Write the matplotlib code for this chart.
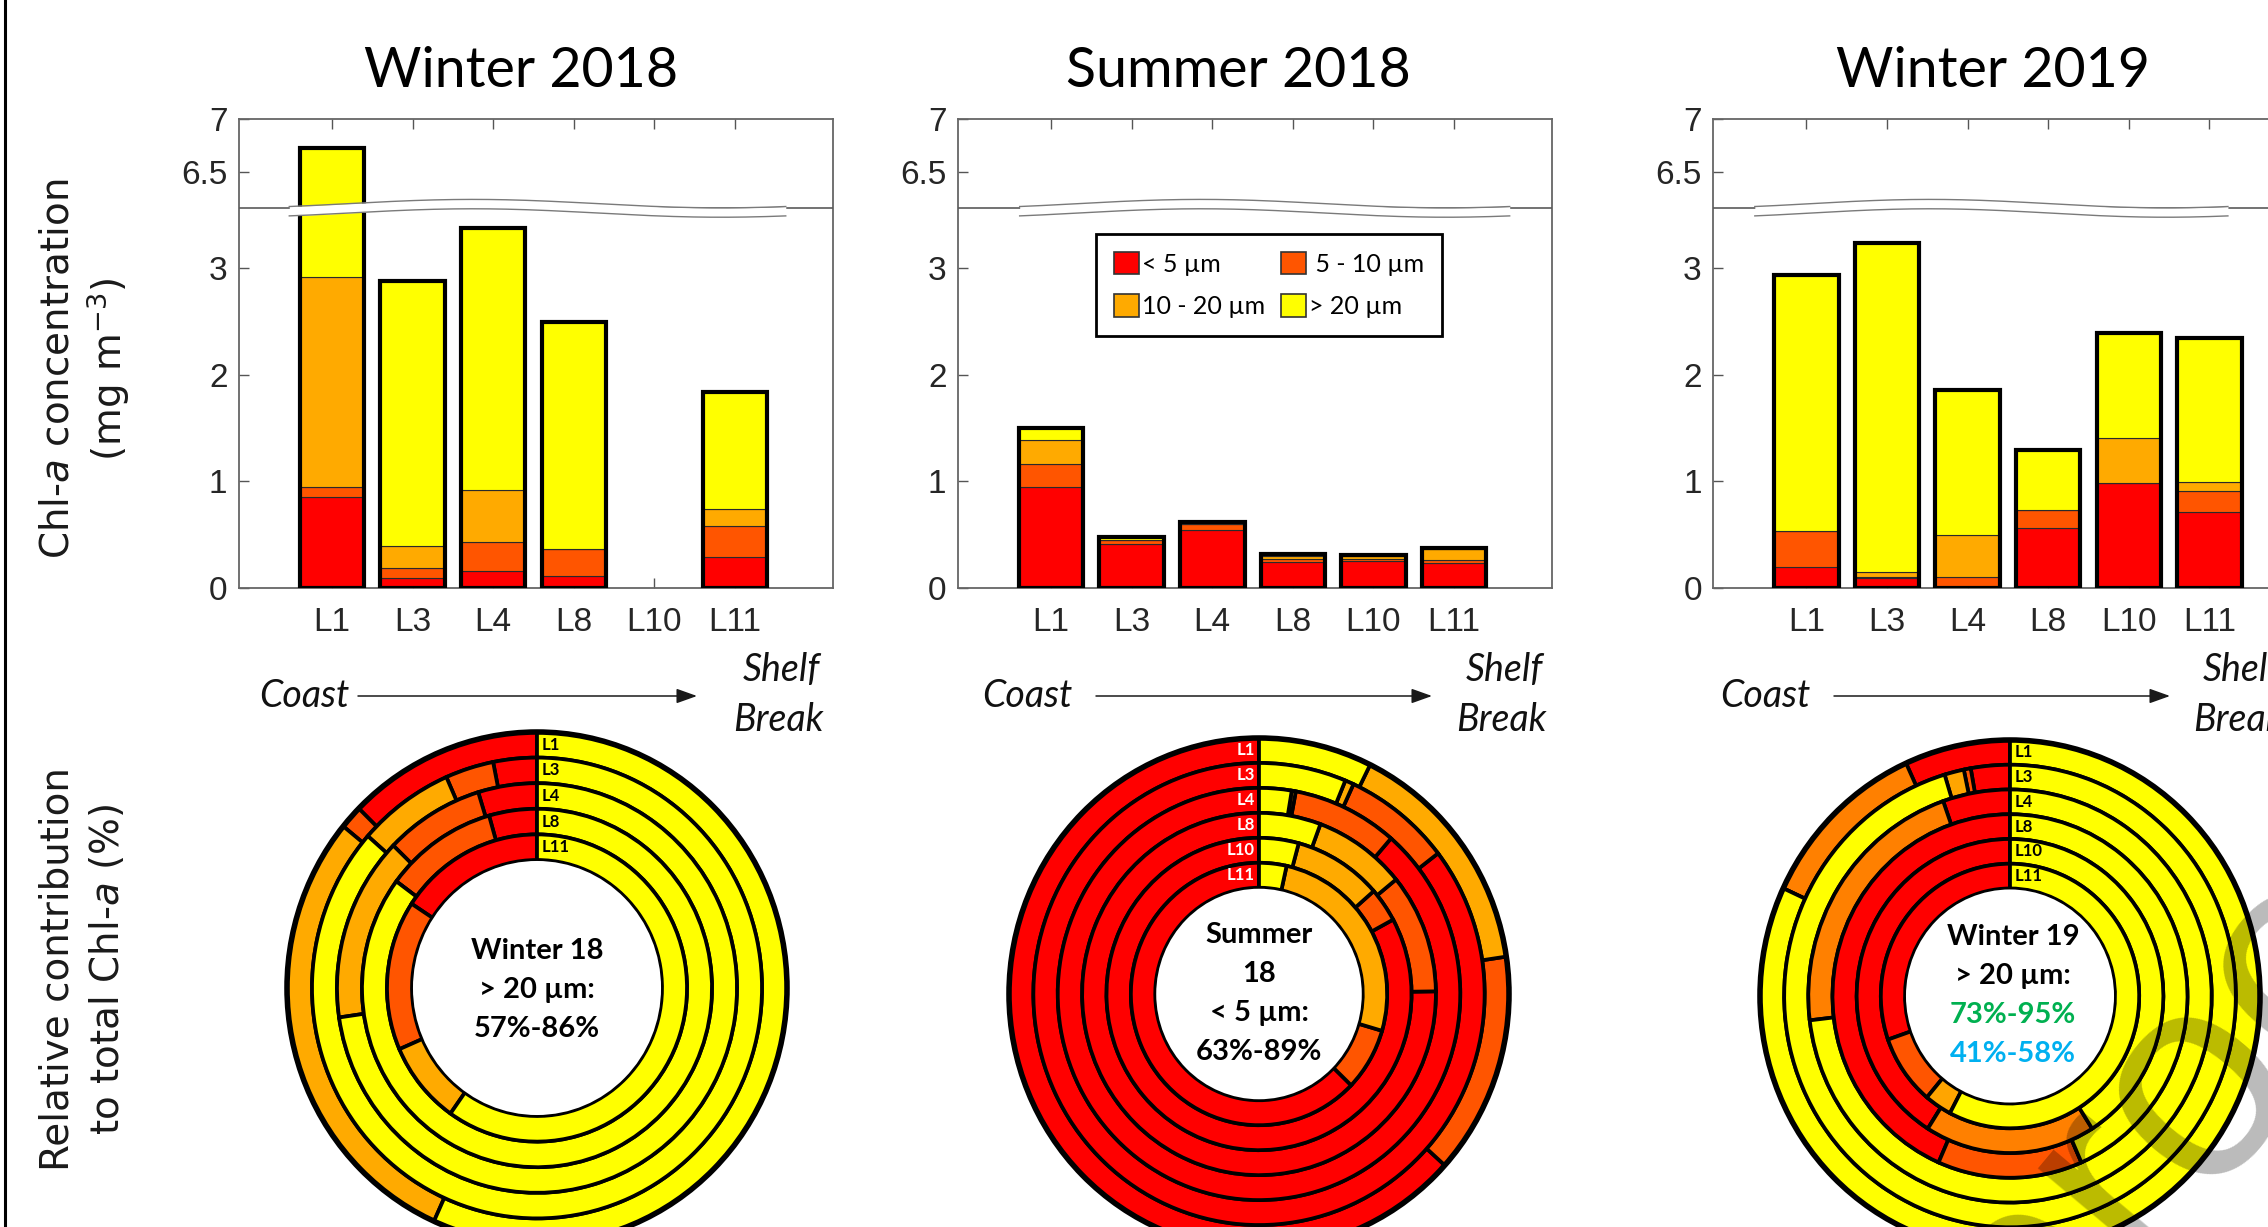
import numpy as np
import matplotlib
matplotlib.use("Agg")
import matplotlib.pyplot as plt
from matplotlib.patches import Patch, Ellipse, FancyArrowPatch
from matplotlib.lines import Line2D

# ------------------------------------------------------------------
# data: size-fractionated Chl-a (mg m-3) per station, nan = not sampled
# ------------------------------------------------------------------
stations = ['L1', 'L3', 'L4', 'L8', 'L10', 'L11']
size_labels = ['< 5 µm', ' 5 - 10 µm', '10 - 20 µm', '> 20 µm']
size_colors = ['#FF0000', '#FF5500', '#FFAA00', '#FFFF00']
seasons = ['Winter 2018', 'Summer 2018', 'Winter 2019']

w18_lt5 = [0.85, 0.09, 0.16, 0.11, np.nan, 0.29]
w18_5_10 = [0.10, 0.10, 0.27, 0.26, np.nan, 0.29]
w18_10_20 = [1.96, 0.20, 0.49, 0.00, np.nan, 0.16]
w18_gt20 = [3.82, 2.49, 2.45, 2.12, np.nan, 1.10]

s18_lt5 = [0.95, 0.41, 0.545, 0.24, 0.257, 0.236]
s18_5_10 = [0.21, 0.037, 0.052, 0.034, 0.011, 0.029]
s18_10_20 = [0.23, 0.003, 0.002, 0.027, 0.029, 0.098]
s18_gt20 = [0.11, 0.030, 0.016, 0.018, 0.013, 0.013]

w19_lt5 = [0.20, 0.090, 0.00, 0.56, 0.98, 0.71]
w19_5_10 = [0.33, 0.016, 0.10, 0.17, 0.00, 0.20]
w19_10_20 = [0.00, 0.045, 0.40, 0.00, 0.43, 0.08]
w19_gt20 = [2.40, 3.079, 1.36, 0.56, 0.98, 1.35]

# ring colours used in the Winter 2019 doughnut (per station, per size class)
w19_ring_colors = [
    ['#FF0000', '#FF8000', '#FF8000', '#FFFF00'],
    ['#FF0000', '#FF5500', '#FFA500', '#FFFF00'],
    ['#FF0000', '#FF0000', '#FF8000', '#FFFF00'],
    ['#FF0000', '#FF5500', '#FFA500', '#FFFF00'],
    ['#FF0000', '#FF5500', '#FF8000', '#FFFF00'],
    ['#FF0000', '#FF5500', '#FFA500', '#FFFF00'],
]

season_data = [
    [w18_lt5, w18_5_10, w18_10_20, w18_gt20],
    [s18_lt5, s18_5_10, s18_10_20, s18_gt20],
    [w19_lt5, w19_5_10, w19_10_20, w19_gt20],
]

# ------------------------------------------------------------------
# layout helpers (pixel positions on a 2268 x 1227 canvas)
# ------------------------------------------------------------------
W, H = 2268, 1227
fig = plt.figure(figsize=(W / 100, H / 100), dpi=100)
fig.patch.set_facecolor('white')


def px_axes(x0, y0, w, h):
    return fig.add_axes([x0 / W, 1 - (y0 + h) / H, w / W, h / H])


def ftext(x, y, s, **kw):
    return fig.text(x / W, 1 - y / H, s, **kw)


# broken y axis: 0..BRK_LO shown as is, values above BRK_HI shifted down by GAP
BRK_LO = 3.558
GAP = 2.605
BRK_HI = BRK_LO + GAP


def fwd(v):
    v = np.asarray(v, float)
    return np.where(v > BRK_HI, v - GAP, np.minimum(v, BRK_LO))


def inv(p):
    p = np.asarray(p, float)
    return np.where(p > BRK_LO, p + GAP, p)


bar_left = [238.5, 957.6, 1712.9]
bar_top, bar_w, bar_h = 119, 594, 469
title_x = [521, 1238, 1993]
ribbon_x = [(0.47, 6.63), (0.61, 6.69), (0.36, 6.23)]
coast_x = [304, 1027, 1765]
arrow_x = [(358, 697), (1096, 1432), (1834, 2170)]
shelf_x = [781, 1504, 2241]

tick_font = 'Liberation Sans'
tick_col = '#262626'
xs = np.arange(1, len(stations) + 1)

for k, (season, data) in enumerate(zip(seasons, season_data)):
    ax = px_axes(bar_left[k], bar_top, bar_w, bar_h)
    ax.set_yscale('function', functions=(fwd, inv))
    ax.set_ylim(0, 7)
    ax.set_xlim(-0.16, 7.21)

    vals = np.array(data, float)          # 4 x 6
    ok = ~np.isnan(vals[0])
    bottom = np.zeros(len(stations))
    for c in range(4):
        ax.bar(xs[ok], vals[c][ok], 0.8, bottom=bottom[ok],
               color=size_colors[c], edgecolor='#2a2a2a', linewidth=0.8, zorder=2)
        bottom = bottom + np.nan_to_num(vals[c])
    ax.bar(xs[ok], bottom[ok], 0.8, fill=False, edgecolor='black',
           linewidth=3.0, zorder=3)

    # axis break: straight line plus wavy white ribbon
    ax.axhline(BRK_LO, color='#5a5a5a', lw=1.2, zorder=4)
    xa, xb = ribbon_x[k]
    xr = np.linspace(xa, xb, 200)
    t = (xr - xa) / (xb - xa)
    yb = BRK_LO / fwd(7.0)
    wave = 0.009 * np.sin(2 * np.pi * (t - 0.12))
    lo, hi = yb + wave - 0.010, yb + wave + 0.010
    trans = ax.get_xaxis_transform()
    ax.fill_between(xr, lo, hi, color='white', transform=trans, zorder=5, lw=0)
    ax.plot(xr, lo, color='#7a7a7a', lw=1.0, transform=trans, zorder=6)
    ax.plot(xr, hi, color='#7a7a7a', lw=1.0, transform=trans, zorder=6)

    ax.set_yticks([0, 1, 2, 3, 6.5, 7])
    ax.set_yticklabels(['0', '1', '2', '3', '6.5', '7'])
    ax.set_xticks(xs)
    ax.set_xticklabels(stations)
    ax.minorticks_off()
    ax.tick_params(axis='x', direction='in', top=True, length=7, width=1.0,
                   color='#555555', pad=14)
    ax.tick_params(axis='y', direction='in', length=7, width=1.0,
                   color='#555555', pad=8)
    for lab in ax.get_xticklabels() + ax.get_yticklabels():
        lab.set_fontfamily(tick_font)
        lab.set_fontsize(24)
        lab.set_color(tick_col)
    for sp in ax.spines.values():
        sp.set_color('#666666')
        sp.set_linewidth(1.3)

    ftext(title_x[k], 87, season, ha='center', va='baseline',
          fontsize=40, family='Lato', color='black')

    # coast -> shelf break arrow
    it_kw = dict(ha='center', va='center', fontsize=27, family='Lato',
                 style='italic', color='#111111')
    ftext(coast_x[k], 696, 'Coast', **it_kw)
    ftext(shelf_x[k], 670, 'Shelf', **it_kw)
    ftext(shelf_x[k] - 3, 720, 'Break', **it_kw)
    x0, x1 = arrow_x[k]
    fig.add_artist(FancyArrowPatch((x0 / W, 1 - 696 / H), (x1 / W, 1 - 696 / H),
                                   transform=fig.transFigure,
                                   arrowstyle='-|>,head_length=0.7,head_width=0.25',
                                   mutation_scale=18, lw=1.1, color='#1a1a1a',
                                   shrinkA=0, shrinkB=0))

    if k == 1:
        handles = [Patch(facecolor=c, edgecolor='#333333', lw=1.2) for c in size_colors]
        order = [0, 2, 1, 3]
        leg = ax.legend([handles[i] for i in order], [size_labels[i] for i in order],
                        ncol=2, loc='upper left', bbox_to_anchor=(0.2337, 0.754),
                        borderaxespad=0, fancybox=False, framealpha=1,
                        edgecolor='black', prop={'family': 'Lato', 'size': 18},
                        handlelength=1.0, handleheight=1.0, handletextpad=0.12,
                        columnspacing=0.65, labelspacing=0.75, borderpad=0.7)
        leg.get_frame().set_linewidth(2.0)

# ------------------------------------------------------------------
# doughnuts: relative contribution of each size class, one ring per station
# ------------------------------------------------------------------
donut_c = [(537, 988), (1259, 994), (2010, 996)]
rh, rv = 250, 256
inner = [0.50, 0.415, 0.42]
pad = 1.06


def pct(x):
    return f"{100 * x:.0f}%"


fr_w18 = np.array(w18_gt20) / np.sum(season_data[0], axis=0)
fr_w18 = fr_w18[~np.isnan(fr_w18)]
fr_s18 = np.array(s18_lt5) / np.sum(season_data[1], axis=0)
fr_w19 = np.array(w19_gt20) / np.sum(season_data[2], axis=0)

center_lines = [
    [('Winter 18', 'black'), ('> 20 µm:', 'black'),
     (pct(fr_w18.min()) + '-' + pct(fr_w18.max()), 'black')],
    [('Summer', 'black'), ('18', 'black'), ('< 5 µm:', 'black'),
     (pct(fr_s18.min()) + '-' + pct(fr_s18.max()), 'black')],
    [('Winter 19', 'black'), ('> 20 µm:', 'black'),
     (pct(fr_w19[:3].min()) + '-' + pct(fr_w19[:3].max()), '#00B050'),
     (pct(fr_w19[3:].min()) + '-' + pct(fr_w19[3:].max()), '#00B0F0')],
]
center_y = [[951, 990, 1029], [935, 974, 1013, 1052], [937, 976, 1015, 1054]]
center_x = [537, 1259, 2013]

for k, data in enumerate(season_data):
    cx, cy = donut_c[k]
    ax = px_axes(cx - rh * pad, cy - rv * pad, 2 * rh * pad, 2 * rv * pad)
    vals = np.array(data, float)
    ok = np.where(~np.isnan(vals[0]))[0]
    n = len(ok)
    rw = (1 - inner[k]) / n
    for i, j in enumerate(ok):
        cols = w19_ring_colors[j] if k == 2 else size_colors
        ax.pie(vals[:, j], radius=1 - i * rw, colors=cols, startangle=90,
               counterclock=True,
               wedgeprops=dict(width=rw, edgecolor='black', linewidth=2.7))
        ym = 1 - (i + 0.5) * rw
        if k == 1:
            ax.text(-0.018, ym, stations[j], ha='right', va='center',
                    fontsize=12, family='Lato', weight='bold', color='white', zorder=10)
        else:
            ax.text(0.02, ym, stations[j], ha='left', va='center',
                    fontsize=12, family='Lato', weight='bold', color='black', zorder=10)
    ax.add_patch(Ellipse((0, 0), 2, 2, fill=False, edgecolor='black', lw=4.0, zorder=8))
    ax.add_patch(Ellipse((0, 0), 2 * inner[k], 2 * inner[k], facecolor='white',
                         edgecolor='none', zorder=8))
    ax.add_patch(Ellipse((0, 0), 2 * inner[k], 2 * inner[k], fill=False,
                         edgecolor='black', lw=1.4, zorder=9))
    ax.set_xlim(-pad, pad)
    ax.set_ylim(-pad, pad)
    ax.set_aspect('auto')
    ax.axis('off')

    for (s, col), y in zip(center_lines[k], center_y[k]):
        ftext(center_x[k], y, s, ha='center', va='center', fontsize=21,
              family='Lato', weight='bold', color=col, zorder=20)

# ------------------------------------------------------------------
# axis titles on the left
# ------------------------------------------------------------------
lab_kw = dict(rotation=90, ha='center', va='center', fontsize=28,
              family='DejaVu Sans', color='#1a1a1a')
ftext(58, 369, 'Chl-$\\mathit{a}$ concentration', **lab_kw)
ftext(108, 369, '(mg m$^{-3}$)', **lab_kw)
ftext(58, 969, 'Relative contribution', **lab_kw)
ftext(108, 969, 'to total Chl-$\\mathit{a}$ (%)', **lab_kw)

# frame line on the left edge
fig.add_artist(Line2D([5 / W, 5 / W], [0, 1], transform=fig.transFigure,
                      color='black', lw=2.2))

# diagonal page watermark running across the lower right corner
wm_ang = 50.0
wm_em = 292.0
u = np.array([np.cos(np.radians(wm_ang)), -np.sin(np.radians(wm_ang))])
v = np.array([-np.sin(np.radians(wm_ang)), -np.cos(np.radians(wm_ang))])
anchor = np.array([2200.0, 1097.0]) - 6.613 * wm_em * u - 0.26 * wm_em * v
fig.text(anchor[0] / W, 1 - anchor[1] / H, 'Journal Pre-proof', rotation=wm_ang,
         rotation_mode='anchor', ha='left', va='baseline',
         fontsize=wm_em * 72 / 100, family='Liberation Sans',
         color='black', alpha=0.27, zorder=50)

fig.savefig('out.png', dpi=100, facecolor='white')
